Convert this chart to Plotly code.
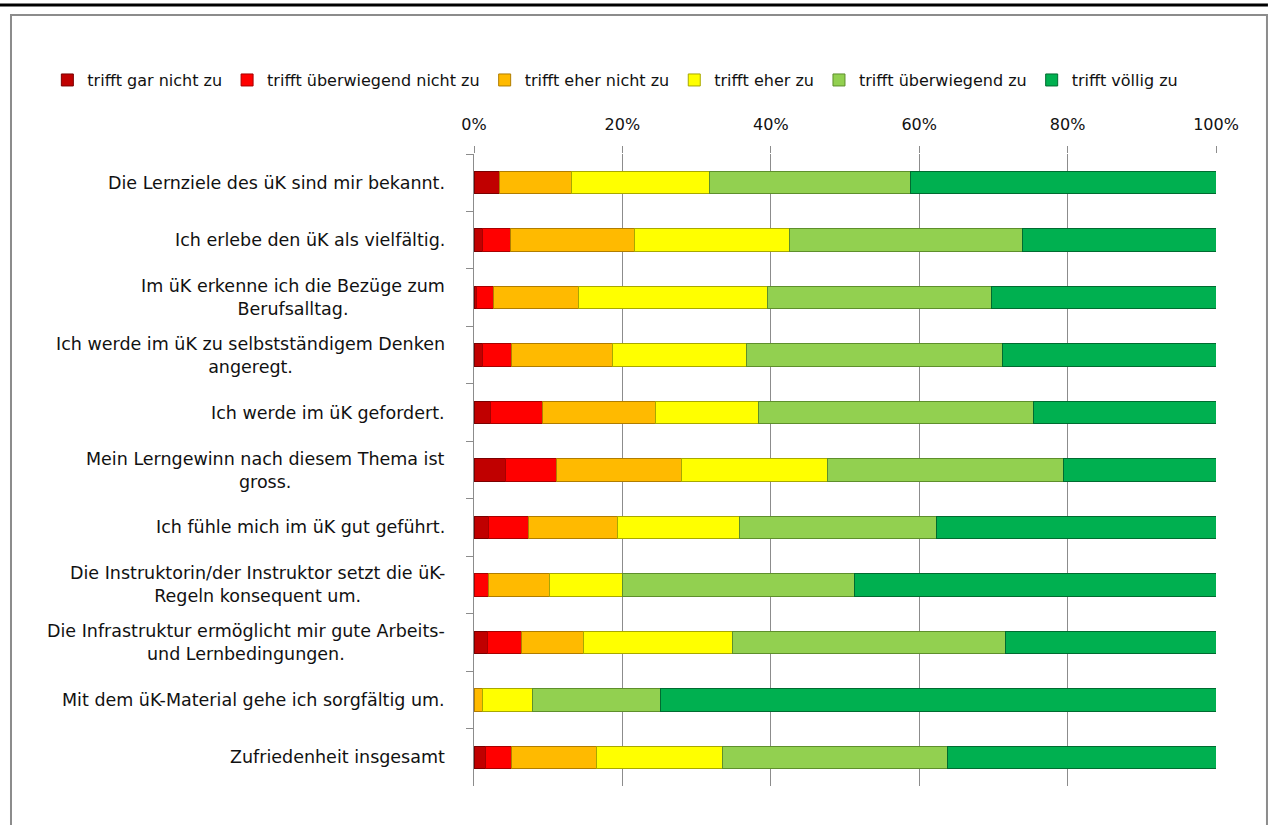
import plotly.graph_objects as go

# Fragen (von oben nach unten)
fragen = [
    "Die Lernziele des üK sind mir bekannt.",
    "Ich erlebe den üK als vielfältig.",
    "Im üK erkenne ich die Bezüge zum<br>Berufsalltag.",
    "Ich werde im üK zu selbstständigem Denken<br>angeregt.",
    "Ich werde im üK gefordert.",
    "Mein Lerngewinn nach diesem Thema ist<br>gross.",
    "Ich fühle mich im üK gut geführt.",
    "Die Instruktorin/der Instruktor setzt die üK-<br>Regeln konsequent um.",
    "Die Infrastruktur ermöglicht mir gute Arbeits-<br>und Lernbedingungen.",
    "Mit dem üK-Material gehe ich sorgfältig um.",
    "Zufriedenheit insgesamt",
]

# Anteile je Antwortkategorie (in Prozent)
gar_nicht = [3.5, 1.2, 0.4, 1.2, 2.2, 4.3, 1.9, 0.0, 1.8, 0.0, 1.6]
ueberw_nicht = [0.0, 3.7, 2.2, 3.9, 7.0, 6.8, 5.4, 1.9, 4.6, 0.0, 3.5]
eher_nicht = [9.7, 16.7, 11.5, 13.5, 15.2, 16.8, 12.0, 8.3, 8.3, 1.2, 11.4]
eher_zu = [18.6, 20.9, 25.4, 18.1, 14.0, 19.7, 16.5, 9.8, 20.1, 6.7, 17.0]
ueberw_zu = [27.0, 31.4, 30.3, 34.5, 37.0, 31.8, 26.5, 31.3, 36.8, 17.2, 30.3]
voellig_zu = [41.2, 26.1, 30.2, 28.8, 24.6, 20.6, 37.7, 48.7, 28.4, 74.9, 36.2]

serien = [
    ("trifft gar nicht zu", gar_nicht, "#C00000", "#7a0000"),
    ("trifft überwiegend nicht zu", ueberw_nicht, "#FF0000", "#a80000"),
    ("trifft eher nicht zu", eher_nicht, "#FFBA00", "#b07d00"),
    ("trifft eher zu", eher_zu, "#FFFF00", "#a8a800"),
    ("trifft überwiegend zu", ueberw_zu, "#92D050", "#5e8f2c"),
    ("trifft völlig zu", voellig_zu, "#00B050", "#006b30"),
]

schrift = "DejaVu Sans, Liberation Sans, Arial, sans-serif"

fig = go.Figure()
for name, werte, farbe, rand in serien:
    fig.add_trace(go.Bar(
        y=fragen,
        x=[w / 100 for w in werte],
        name=name,
        orientation="h",
        marker=dict(color=farbe, line=dict(color=rand, width=1)),
        width=0.39,
    ))

# Beschriftungen der Fragen (zentriert, mehrzeilig)
for f in fragen:
    fig.add_annotation(
        x=-0.0364, xref="paper", y=f, yref="y",
        text=f, showarrow=False, xanchor="right", align="center",
        font=dict(family=schrift, size=17.5, color="#111111"),
    )

# Rahmen und Linie oben
fig.add_shape(type="rect", xref="paper", yref="paper",
              x0=-0.624, x1=1.0687, y0=-0.2, y1=1.22,
              line=dict(color="#8c8c8c", width=2), layer="below")
fig.add_shape(type="line", xref="paper", yref="paper",
              x0=-0.64, x1=1.07, y0=1.2358, y1=1.2358,
              line=dict(color="black", width=3))

fig.update_layout(
    width=1273, height=825,
    barmode="stack",
    margin=dict(l=474, r=57, t=154, b=39),
    paper_bgcolor="white", plot_bgcolor="white",
    font=dict(family=schrift, size=16, color="#111111"),
    legend=dict(orientation="h", x=-0.575, xanchor="left", y=1.117, yanchor="middle",
                traceorder="normal", itemwidth=30, font=dict(size=16)),
    showlegend=True,
)
fig.update_xaxes(side="top", range=[0, 1], tickvals=[0, 0.2, 0.4, 0.6, 0.8, 1.0],
                 tickformat=".0%", showgrid=True, gridcolor="#8c8c8c", gridwidth=1,
                 zeroline=False, showline=False, ticks="outside", ticklen=7,
                 tickcolor="#8c8c8c", ticklabelstandoff=10,
                 tickfont=dict(size=16))
fig.update_yaxes(autorange="reversed", showticklabels=False, showline=True,
                 linecolor="#8c8c8c", ticks="outside", ticklen=7, tickcolor="#8c8c8c",
                 tickson="boundaries", showgrid=False)

fig.write_html("out.html", config={"displayModeBar": False},
               post_script="document.body.style.margin='0';")
